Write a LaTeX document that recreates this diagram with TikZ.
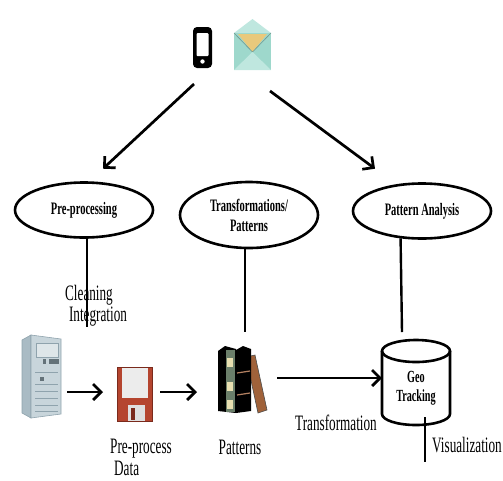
\documentclass[tikz,border=0pt]{standalone}
\usepackage{fontspec}
\usetikzlibrary{arrows.meta,shapes.geometric}

\newfontfamily\figfont[FakeStretch=0.6]{Liberation Serif}

\definecolor{srvside}{HTML}{A9BBC4}
\definecolor{srvfront}{HTML}{C8D5DB}
\definecolor{srvline}{HTML}{8FA3AD}
\definecolor{floppyred}{HTML}{B5452F}
\definecolor{floppydark}{HTML}{7A2A1C}
\definecolor{mailteal}{HTML}{9ED8CC}
\definecolor{mailflap}{HTML}{BFE7DF}
\definecolor{mailletter}{HTML}{E9C97C}
\definecolor{bookgreen}{HTML}{6B7F6A}
\definecolor{booklabel}{HTML}{E8DFB0}
\definecolor{bookbrown}{HTML}{A0623A}

\begin{document}
\begin{tikzpicture}[x=1pt, y=-1pt]
\tikzset{ arr/.style={-{Straight Barb[length=8pt,width=16pt]}, line width=2.7pt},
          stem/.style={line width=2.4pt},
          bubble/.style={ellipse, draw, line width=2.6pt, minimum width=138pt, inner sep=0pt,
                         align=center, font=\figfont\bfseries\fontsize{17.5}{20}\selectfont},
          lbl/.style={inner sep=0pt, align=left, font=\figfont\fontsize{22}{22}\selectfont},
          box/.style={inner sep=0pt, outer sep=0pt} }

\useasboundingbox (0,0) rectangle (503,480);

%%% Icons

% phone
\node [box, fill=black, rounded corners=4pt, minimum width=19pt, minimum height=41pt] (phone) at (202.5,47.5) { };
\fill[white, rounded corners=1pt] (196.5,33) rectangle (208.5,56);
\fill[white] (202.5,61.5) circle (2.2pt);

% mail
\node [box, minimum width=37pt, minimum height=37pt] (mail) at (252.5,51.5) { };
\fill[mailflap] (234,33) -- (252.5,19) -- (271,33) -- cycle;
\fill[mailteal] (234,33) rectangle (271,70);
\fill[mailletter] (238,34) -- (267,34) -- (252.5,52) -- cycle;
\draw[mailteal!70!black, line width=0.6pt] (234,33) -- (252.5,52) -- (271,33);
\fill[mailflap] (234,70) -- (252.5,52) -- (271,70) -- cycle;

% server
\node [box, minimum width=40pt, minimum height=84pt] (server) at (42,376) { };
\filldraw[fill=srvside, draw=srvline, line width=0.6pt] (22,340) -- (31,335) -- (31,418) -- (22,413) -- cycle;
\filldraw[fill=srvfront, draw=srvline, line width=0.6pt] (31,335) -- (61,339) -- (61,414) -- (31,418) -- cycle;
\filldraw[fill=srvfront!60!white, draw=srvline, line width=0.6pt] (36,343) rectangle (58,357);
\fill[srvline!70!black] (49,359) rectangle (59,364);
\fill[srvline!70!black] (43,359) rectangle (46,364);
\draw[srvline, line width=0.8pt] (35,372) -- (58,372);
\fill[srvline!70!black] (40,377) rectangle (44,381);
\foreach \yy in {384,391,398,405,411}
  \draw[srvline, line width=0.8pt] (35,\yy) -- (58,\yy);

% floppy
\node [box, fill=floppyred, draw=floppydark, line width=0.8pt, minimum width=35pt, minimum height=54pt] (floppy) at (134.5,394) { };
\fill[gray!15] (122,368) rectangle (148,398);
\fill[gray!25] (128,405) rectangle (145,421);
\fill[floppydark] (131,408) rectangle (135,420);

% books
\node [box, minimum width=50pt, minimum height=68pt] (books) at (242.5,381) { };
\filldraw[fill=bookbrown, draw=black!70, line width=0.6pt] (246,357) -- (255,355) -- (267,410) -- (258,413) -- cycle;
\fill[black] (236,350) -- (243,346) -- (251,349) -- (251,411) -- (236,413) -- cycle;
\draw[bookbrown!80!white, line width=1.2pt] (237,373) -- (250,371) (237,395) -- (250,393);
\fill[black] (218,351) -- (225,346) -- (236,349) -- (236,413) -- (218,411) -- cycle;
\fill[bookgreen] (226,350) rectangle (235,412);
\foreach \yy in {358,382,400}
  \fill[booklabel] (227,\yy) rectangle (233,\yy+9);

% geo tracking store
\node [box, minimum width=68pt, minimum height=86pt] (geo) at (416,383) { };
\draw[line width=2.6pt] (382,351) -- (382,414) arc[start angle=180, end angle=360, x radius=34pt, y radius=11pt] -- (450,351);
\draw[line width=2.6pt] (416,351) ellipse [x radius=34pt, y radius=11pt];
\node [box, align=center, font=\figfont\bfseries\fontsize{17}{19}\selectfont] (geotxt) at (416,388) {Geo\\Tracking};

%%% Stages

\node [bubble, minimum height=55pt] (prep)  at (84,210)  {Pre-processing};
\node [bubble, minimum height=66pt] (trans) at (249,215) {Transformations/\\Patterns};
\node [bubble, minimum height=55pt] (pa)    at (422,211) {Pattern Analysis};

%%% Lines

% sources -> stages
\draw [arr] ([shift={(-8.5pt,-16pt)}]phone.south) -- ([shift={(19pt,12.5pt)}]prep.north);
\draw [arr] ([shift={(17.5pt,-21pt)}]mail.south) -- ([shift={(-47pt,13.5pt)}]pa.north);

% stage stems
\coordinate (prepend)  at (87,327);
\coordinate (transend) at (245,332);
\coordinate (paend)    at (402,332);
\draw [stem] ([xshift=3pt]prep.south) -- (prepend);
\draw [stem] ([xshift=-4pt]trans.south) -- (transend);
\draw [stem] (pa.232) -- (paend);

% data flow
\draw [arr] ([shift={(5pt,-16pt)}]server.east) -- ([shift={(-14pt,2pt)}]floppy.west);
\draw [arr] ([shift={(8pt,2pt)}]floppy.east) -- ([shift={(-20.5pt,-11pt)}]books.west);
\draw [arr] ([shift={(9.5pt,3pt)}]books.east) -- ([yshift=5pt]geo.west);

% output
\coordinate (visend) at (425,462);
\draw [stem] ([shift={(9pt,9pt)}]geo.south) -- (visend);

%%% Labels
\node [lbl] (clean)  at (89,295)  {Cleaning};
\node [lbl] (integr) at (98,317)  {Integration};
\node [lbl] (ppdata) at (141,457) {Pre-process\\\hspace*{4pt}Data};
\node [lbl] (pattxt) at (240,447) {Patterns};
\node [lbl] (trftxt) at (336,423) {Transformation};
\node [lbl] (vistxt) at (467,445) {Visualization};

\end{tikzpicture}
\end{document}
